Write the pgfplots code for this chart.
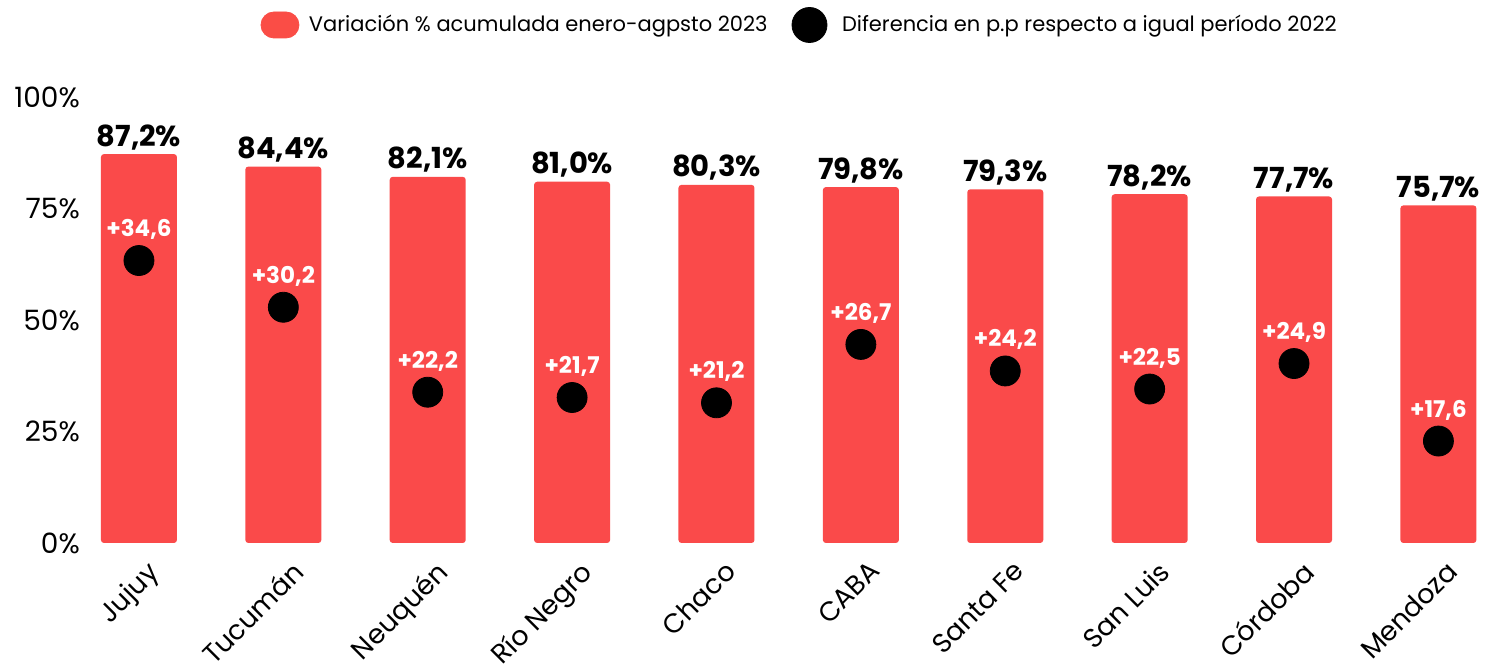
\documentclass[border=0pt]{standalone}
\usepackage{fontspec}
\setmainfont{Poppins}
\usepackage{pgfplots}
\pgfplotsset{compat=1.18}
\definecolor{barred}{RGB}{250,74,74}
\begin{document}
\begin{tikzpicture}
\begin{axis}[
  name=main,
  scale only axis, width=707.5pt, height=223pt,
  xmin=-0.4, xmax=9.4, ymin=0, ymax=100,
  axis line style={draw=none},
  major tick length=0pt,
  clip=false,
  ytick={0,25,50,75,100},
  yticklabel={\pgfmathprintnumber{\tick}\%},
  yticklabel style={font=\fontsize{14}{16}\selectfont, inner sep=0pt, xshift=-0.5pt},
  xtick={0,...,9},
  xticklabels={Jujuy,Tucumán,Neuquén,Río Negro,Chaco,CABA,Santa Fe,San Luis,Córdoba,Mendoza},
  xticklabel style={font=\fontsize{13.5}{15}\selectfont, inner sep=0pt, xshift=3.5pt, yshift=-8pt, rotate=45, anchor=north east},
  /pgf/number format/assume math mode=true,
  legend style={draw=none, legend columns=2, at={(0.5,1)}, anchor=center, yshift=36pt, xshift=6pt,
    font=\fontsize{10.5}{12}\selectfont, inner sep=0pt,
    /tikz/every even column/.append style={column sep=10pt}},
  legend cell align=left,
]
\addlegendimage{legend image code/.code={\fill[barred!95!orange, rounded corners=6.5pt] (0pt,-6.5pt) rectangle (19pt,6.5pt); \path[draw=none, fill=none] (0pt,0pt) -- (22pt,0pt);}}
\addlegendentry{Variación \% acumulada enero-agpsto 2023}
\addlegendimage{legend image code/.code={\fill[black] (8.75pt,0pt) circle (8.75pt); \path[draw=none, fill=none] (0pt,0pt) -- (23pt,0pt);}}
\addlegendentry{Diferencia en p.p respecto a igual período 2022}
\addplot[ybar, bar width=38pt, fill=barred, draw=none, rounded corners=1.5pt, forget plot,
  point meta=y,
  nodes near coords={\pgfmathprintnumber[use comma, fixed, fixed zerofill, precision=1]{\pgfplotspointmeta}\%},
  nodes near coords style={black, font=\bfseries\fontsize{14.5}{16}\selectfont, anchor=base, yshift=4pt}]
  coordinates {(0,87.2) (1,84.4) (2,82.1) (3,81.0) (4,80.3) (5,79.8) (6,79.3) (7,78.2) (8,77.7) (9,75.7)};
\end{axis}
\begin{axis}[
  scale only axis, width=707.5pt, height=223pt,
  xmin=-0.4, xmax=9.4, ymin=8, ymax=50,
  hide axis, clip=false,
  /pgf/number format/assume math mode=true,
]
\addplot[only marks, mark=*, mark size=7.5pt, black,
  point meta=y,
  nodes near coords={\pgfmathprintnumber[use comma, fixed, fixed zerofill, precision=1, print sign, assume math mode=true]{\pgfplotspointmeta}},
  nodes near coords style={white, font=\bfseries\fontsize{11.5}{13}\selectfont, anchor=base, yshift=12pt}]
  coordinates {(0,34.6) (1,30.2) (2,22.2) (3,21.7) (4,21.2) (5,26.7) (6,24.2) (7,22.5) (8,24.9) (9,17.6)};
\end{axis}
\pgfresetboundingbox
\path[use as bounding box] (main.south west) ++(-40.6pt,-62.5pt) rectangle ++(750.5pt,334pt);
\end{tikzpicture}
\end{document}
